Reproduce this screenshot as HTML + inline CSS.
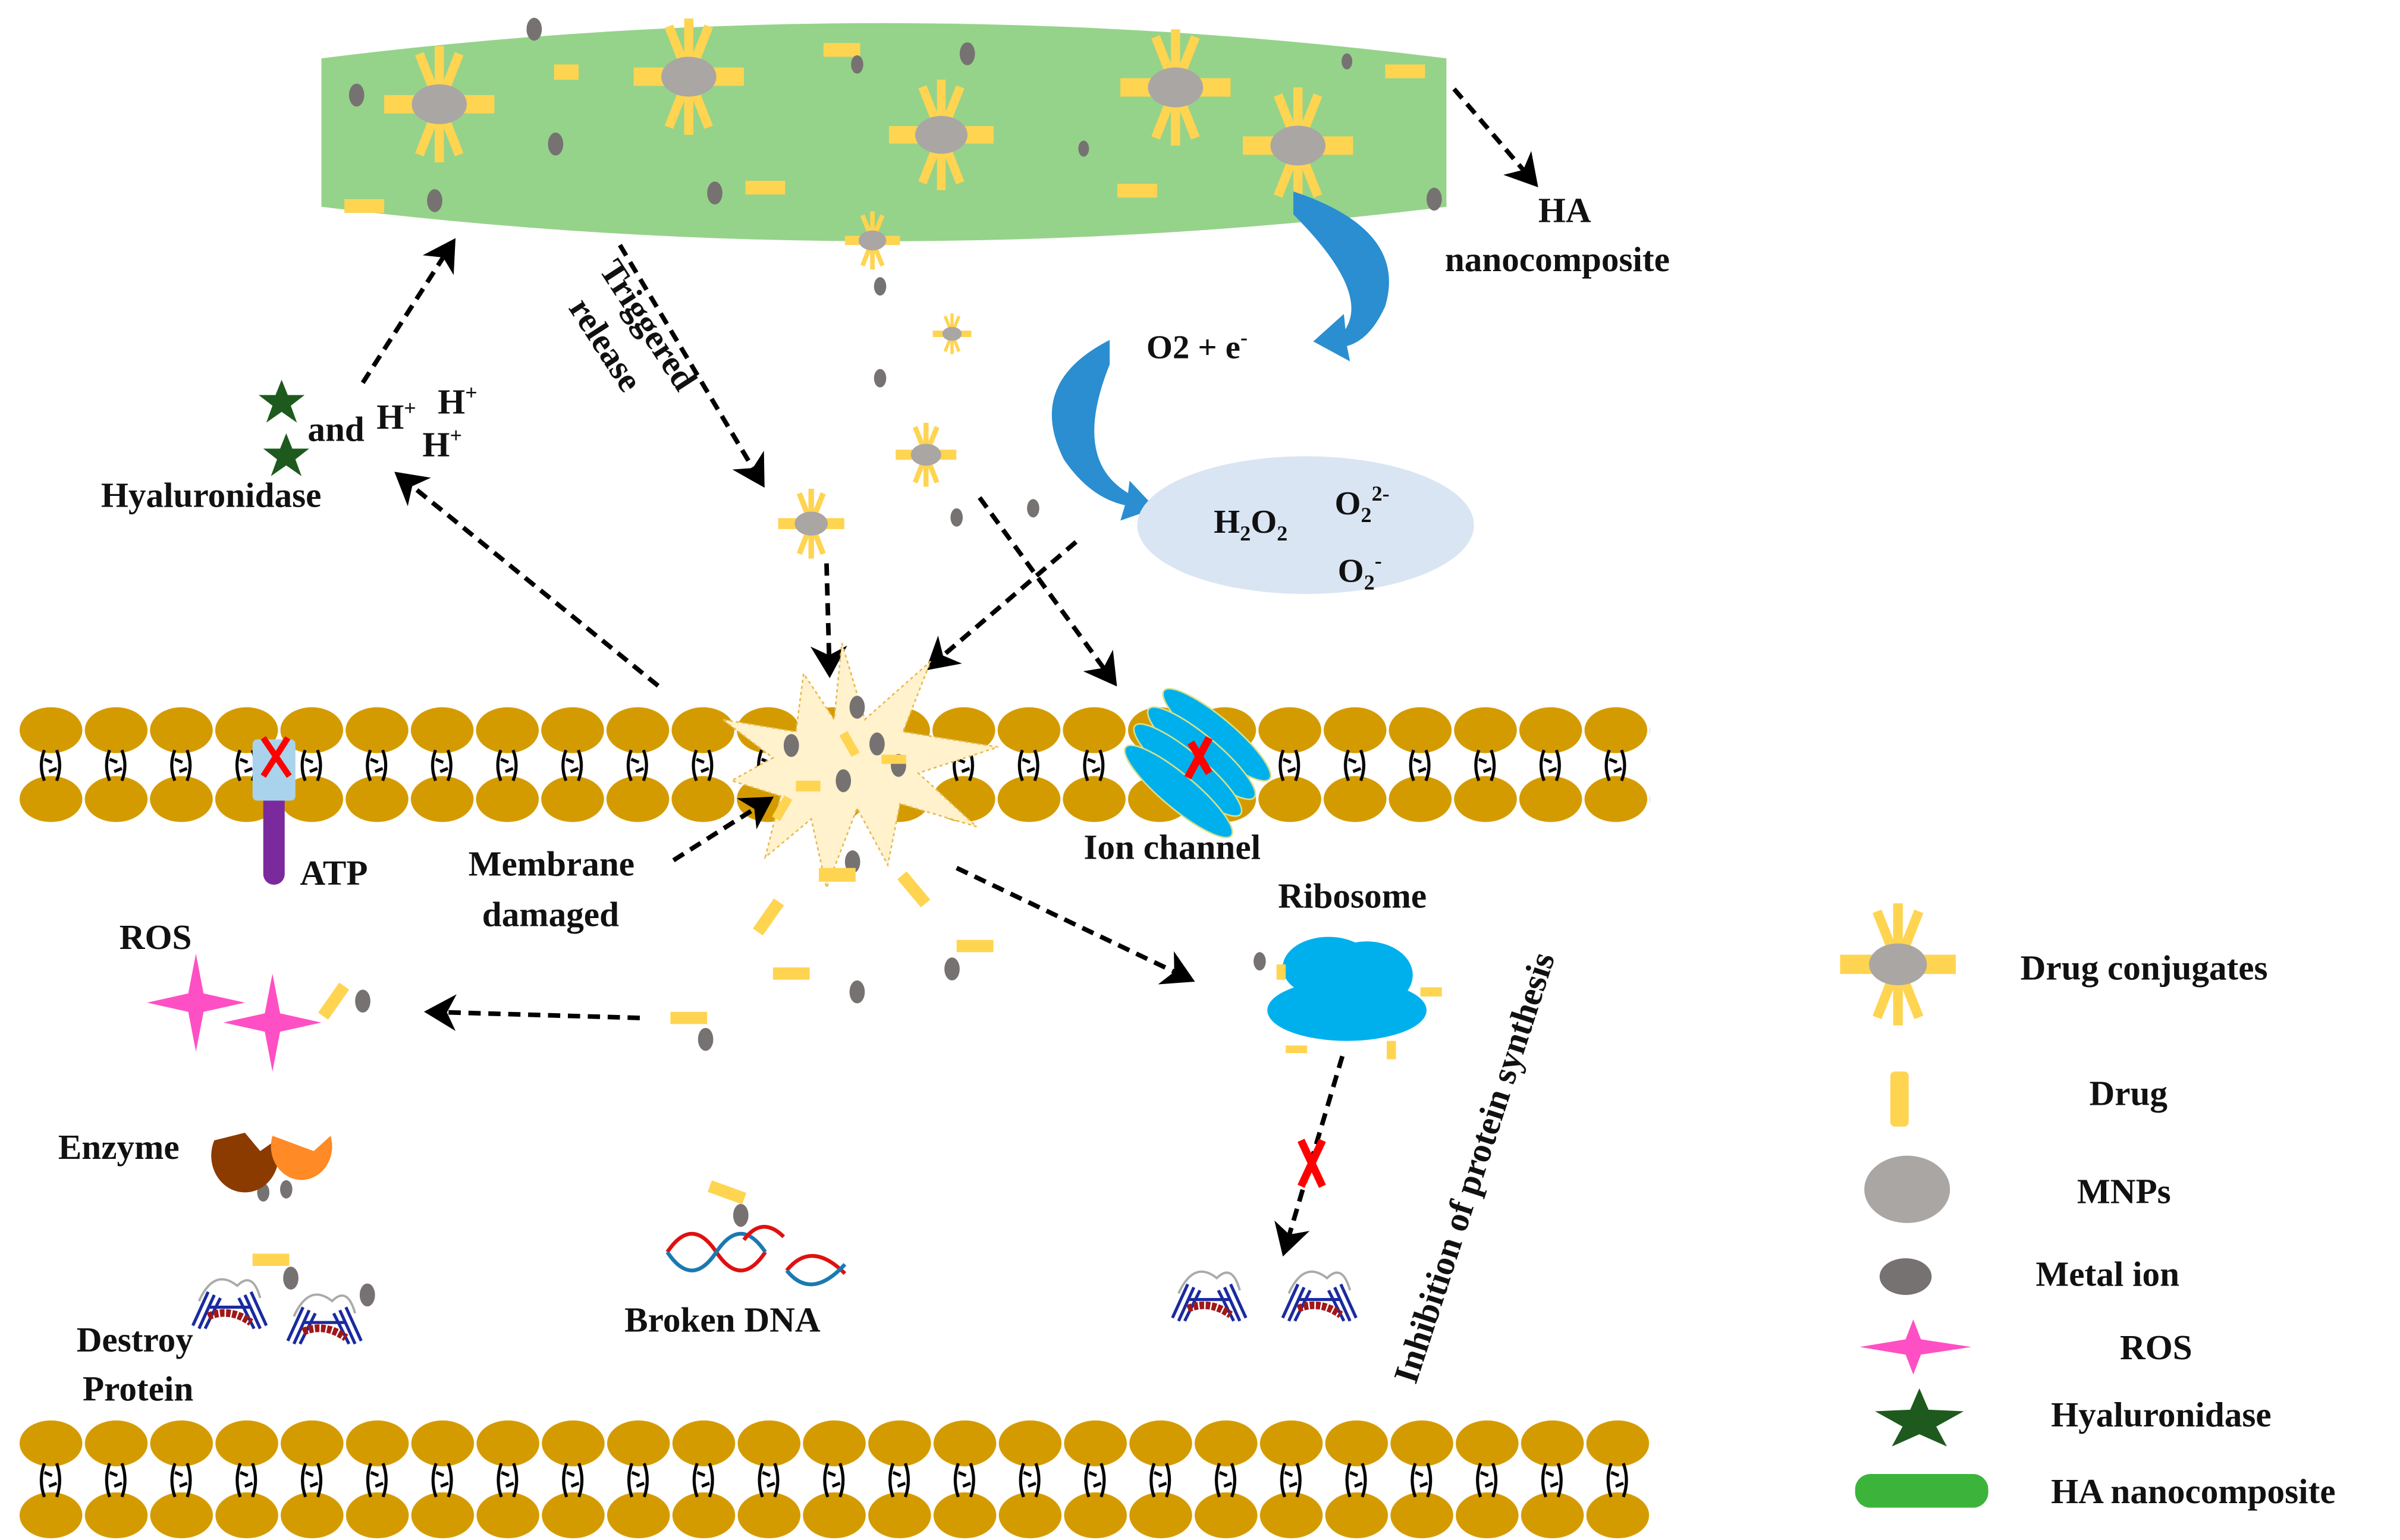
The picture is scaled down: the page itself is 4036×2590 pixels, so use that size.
<!DOCTYPE html>
<html><head><meta charset="utf-8"><style>
html,body{margin:0;padding:0;background:#fff}
svg{display:block}
text{font-family:"Liberation Serif","Times New Roman","DejaVu Serif",serif;font-weight:bold;fill:#111}
</style></head><body>
<svg width="4036" height="2590" viewBox="0 0 1568 1006" xmlns="http://www.w3.org/2000/svg" font-family="Liberation Serif, Times New Roman, DejaVu Serif, serif">
<defs>
<pattern id="lip" patternUnits="userSpaceOnUse" x="12" y="460" width="42.6" height="80">
 <ellipse cx="21.3" cy="17" rx="20.5" ry="15" fill="#d49b00"/>
 <ellipse cx="21.3" cy="62" rx="20.5" ry="15" fill="#d49b00"/>
 <path d="M17,30 Q13,40 17,50 M25,30 Q29,40 25,50 M17,36 L22,38 M20,44 L25,42" stroke="#000" stroke-width="2" fill="none"/>
</pattern>
<pattern id="lip2" patternUnits="userSpaceOnUse" x="12" y="926" width="42.65" height="80">
 <ellipse cx="21.3" cy="17" rx="20.5" ry="15" fill="#d49b00"/>
 <ellipse cx="21.3" cy="64" rx="20.5" ry="15" fill="#d49b00"/>
 <path d="M17,30 Q13,41 17,52 M25,30 Q29,41 25,52 M17,36 L22,38 M20,45 L25,43" stroke="#000" stroke-width="2" fill="none"/>
</pattern>
<g id="conj">
 <g stroke="#ffd451" stroke-width="6">
  <line x1="0" y1="-38" x2="0" y2="38"/>
  <line x1="-13" y1="-33" x2="13" y2="33"/>
  <line x1="13" y1="-33" x2="-13" y2="33"/>
 </g>
 <g stroke="#ffd451" stroke-width="12">
  <line x1="-36" y1="0" x2="36" y2="0"/>
 </g>
 <ellipse cx="0" cy="0" rx="18" ry="13" fill="#aaa6a4"/>
</g>
<g id="ion"><ellipse cx="0" cy="0" rx="5" ry="7.5" fill="#777272"/></g>
<marker id="ah" markerWidth="8" markerHeight="8" refX="6" refY="4" orient="auto" markerUnits="strokeWidth">
 <path d="M0,0 L7,4 L0,8 L2,4 Z" fill="#000"/>
</marker>
<g id="star4"><path d="M0,-32 L5,-6 L32,0 L5,6 L0,32 L-5,6 L-32,0 L-5,-6 Z" fill="#ff4fc4"/></g>
<g id="gstar"><path d="M0,-14 L4,-4 L15,-4 L6,3 L10,14 L0,7 L-10,14 L-6,3 L-15,-4 L-4,-4 Z" fill="#1e5a1e"/></g>
<g id="prot">
 <path d="M-20,0 Q-10,-22 5,-10 Q15,-20 20,-2" stroke="#aaa" stroke-width="1.5" fill="none"/>
 <g stroke="#1a2aa0" stroke-width="2">
  <line x1="-24" y1="16" x2="-14" y2="-6"/><line x1="-20" y1="18" x2="-10" y2="-4"/><line x1="-16" y1="18" x2="-6" y2="-2"/>
  <line x1="20" y1="18" x2="10" y2="-4"/><line x1="24" y1="16" x2="14" y2="-6"/><line x1="16" y1="18" x2="6" y2="-2"/>
  <line x1="-14" y1="4" x2="14" y2="4"/>
 </g>
 <path d="M-14,10 Q0,4 14,14" stroke="#a01818" stroke-width="5" fill="none" stroke-dasharray="3 1"/>
</g>
</defs>

<path d="M210,38 Q577,-8 945,38 L945,135 Q577,180 210,135 Z" fill="#95d38a"/>

<rect x="12" y="460" width="1066" height="80" fill="url(#lip)"/>
<rect x="12" y="926" width="1066" height="80" fill="url(#lip2)"/>

<use href="#conj" transform="translate(287,68)"/>
<use href="#conj" transform="translate(450,50)"/>
<use href="#conj" transform="translate(615,88) scale(0.95)"/>
<use href="#conj" transform="translate(768,57)"/>
<use href="#conj" transform="translate(848,95)"/>
<use href="#conj" transform="translate(570,157) scale(0.5)"/>
<use href="#conj" transform="translate(622,218) scale(0.35)"/>
<use href="#conj" transform="translate(605,297) scale(0.55)"/>
<use href="#conj" transform="translate(530,342) scale(0.6)"/>

<g fill="#ffd451">
<rect x="362" y="42" width="16" height="10"/><rect x="538" y="28" width="24" height="9"/>
<rect x="905" y="42" width="26" height="9"/><rect x="225" y="130" width="26" height="9"/>
<rect x="487" y="118" width="26" height="9"/><rect x="730" y="120" width="26" height="9"/>
</g>
<use href="#ion" transform="translate(349,19)"/>
<use href="#ion" transform="translate(560,42) scale(0.8)"/>
<use href="#ion" transform="translate(632,35)"/>
<use href="#ion" transform="translate(880,40) scale(0.7)"/>
<use href="#ion" transform="translate(233,62)"/>
<use href="#ion" transform="translate(363,94)"/>
<use href="#ion" transform="translate(284,131)"/>
<use href="#ion" transform="translate(467,126)"/>
<use href="#ion" transform="translate(708,97) scale(0.7)"/>
<use href="#ion" transform="translate(937,130)"/>
<use href="#ion" transform="translate(575,187) scale(0.8)"/>
<use href="#ion" transform="translate(575,247) scale(0.8)"/>
<use href="#ion" transform="translate(625,338) scale(0.8)"/>
<use href="#ion" transform="translate(675,332) scale(0.8)"/>

<path d="M845,125 Q920,150 905,200 Q895,222 880,226 L882,236 L858,223 L878,205 L879,215 Q895,190 845,140 Z" fill="#2a8ed0"/>
<path d="M725,222 Q670,250 695,300 Q712,325 735,330 L732,340 L755,332 L738,314 L737,322 Q700,300 725,238 Z" fill="#2a8ed0"/>

<ellipse cx="853" cy="343" rx="110" ry="45" fill="#dae5f3"/>
<text x="793" y="348" font-size="22">H<tspan font-size="14" dy="5">2</tspan><tspan dy="-5">O</tspan><tspan font-size="14" dy="5">2</tspan></text>
<text x="872" y="336" font-size="22">O<tspan font-size="14" dy="5">2</tspan><tspan font-size="14" dy="-14">2-</tspan></text>
<text x="874" y="380" font-size="22">O<tspan font-size="14" dy="5">2</tspan><tspan font-size="14" dy="-14">-</tspan></text>
<text x="749" y="234" font-size="22">O2 + e<tspan font-size="14" dy="-9">-</tspan></text>

<g stroke="#000" stroke-width="3" stroke-dasharray="8 5" fill="none" marker-end="url(#ah)">
<line x1="950" y1="58" x2="1003" y2="120"/>
<line x1="237" y1="250" x2="296" y2="158"/>
<line x1="405" y1="160" x2="498" y2="316"/>
<line x1="430" y1="448" x2="260" y2="310"/>
<line x1="540" y1="368" x2="542" y2="440"/>
<line x1="703" y1="354" x2="607" y2="436"/>
<line x1="640" y1="325" x2="728" y2="446"/>
<line x1="440" y1="562" x2="503" y2="522"/>
<line x1="625" y1="567" x2="778" y2="640"/>
<line x1="418" y1="665" x2="280" y2="661"/>
<line x1="877" y1="690" x2="839" y2="818"/>
</g>
<path d="M850,745 L864,775 M864,745 L850,775" stroke="#f00" stroke-width="5"/>

<path d="M550,420 L565,470 L608,432 L590,478 L652,488 L600,505 L638,540 L588,525 L580,565 L560,528 L540,580 L530,535 L500,560 L510,520 L478,510 L505,495 L472,470 L520,478 L525,440 L545,470 Z" fill="#fff2cc" stroke="#e8b850" stroke-width="1" stroke-dasharray="2 2"/>
<use href="#ion" transform="translate(517,487)"/>
<use href="#ion" transform="translate(560,462)"/>
<use href="#ion" transform="translate(573,486)"/>
<use href="#ion" transform="translate(551,510)"/>
<use href="#ion" transform="translate(587,500)"/>
<g fill="#ffd451">
<rect x="520" y="510" width="16" height="7"/><rect x="552" y="478" width="6" height="16" transform="rotate(-30 555 486)"/>
<rect x="576" y="493" width="16" height="6"/><rect x="508" y="520" width="6" height="16" transform="rotate(30 511 528)"/>
</g>
<use href="#ion" transform="translate(557,563)"/>
<use href="#ion" transform="translate(622,633)"/>
<use href="#ion" transform="translate(560,648)"/>
<use href="#ion" transform="translate(461,679)"/>
<use href="#ion" transform="translate(237,654)"/>
<use href="#ion" transform="translate(484,794)"/>
<use href="#ion" transform="translate(190,835)"/>
<use href="#ion" transform="translate(240,846)"/>
<use href="#ion" transform="translate(172,779) scale(0.8)"/>
<use href="#ion" transform="translate(187,777) scale(0.8)"/>
<use href="#ion" transform="translate(823,628) scale(0.8)"/>
<g fill="#ffd451">
<rect x="535" y="567" width="24" height="9"/>
<rect x="585" y="577" width="24" height="8" transform="rotate(50 597 581)"/>
<rect x="490" y="595" width="24" height="8" transform="rotate(-55 502 599)"/>
<rect x="625" y="614" width="24" height="8"/>
<rect x="505" y="632" width="24" height="8"/>
<rect x="438" y="661" width="24" height="8"/>
<rect x="206" y="650" width="24" height="8" transform="rotate(-55 218 654)"/>
<rect x="165" y="819" width="24" height="8"/>
<rect x="463" y="775" width="24" height="8" transform="rotate(20 475 779)"/>
</g>

<rect x="172" y="500" width="14" height="78" rx="7" fill="#7b2a9e"/>
<rect x="165" y="483" width="28" height="40" rx="3" fill="#a9d3ec"/>
<path d="M172,482 L189,507 M188,482 L172,507" stroke="#f00" stroke-width="4"/>
<text x="196" y="578" font-size="23">ATP</text>

<g fill="#00b0ec" stroke="#d8e08a" stroke-width="1">
<ellipse cx="795" cy="480" rx="45" ry="11" transform="rotate(40 795 480)"/>
<ellipse cx="785" cy="492" rx="45" ry="11" transform="rotate(40 785 492)"/>
<ellipse cx="776" cy="503" rx="45" ry="11" transform="rotate(40 776 503)"/>
<ellipse cx="770" cy="517" rx="45" ry="11" transform="rotate(40 770 517)"/>
</g>
<path d="M778,485 L790,505 M790,482 L776,508" stroke="#f00" stroke-width="5"/>
<text x="708" y="561" font-size="23">Ion channel</text>

<g fill="#00b0ec">
<ellipse cx="868" cy="632" rx="30" ry="20"/>
<ellipse cx="893" cy="637" rx="30" ry="22"/>
<ellipse cx="880" cy="660" rx="52" ry="20"/>
</g>
<g fill="#ffd451"><rect x="928" y="645" width="14" height="6"/><rect x="906" y="680" width="6" height="12"/><rect x="834" y="630" width="6" height="10"/><rect x="840" y="683" width="14" height="5"/></g>
<text x="835" y="593" font-size="23">Ribosome</text>
<use href="#prot" transform="translate(790,845)"/>
<use href="#prot" transform="translate(862,845)"/>

<use href="#gstar" transform="translate(184,262)"/>
<use href="#gstar" transform="translate(187,297)"/>
<text x="201" y="288" font-size="23">and</text>
<text x="246" y="280" font-size="23">H<tspan font-size="14" dy="-9">+</tspan></text>
<text x="286" y="270" font-size="23">H<tspan font-size="14" dy="-9">+</tspan></text>
<text x="276" y="298" font-size="23">H<tspan font-size="14" dy="-9">+</tspan></text>
<text x="66" y="331" font-size="23">Hyaluronidase</text>
<text transform="translate(391,176) rotate(57)" font-size="23">Triggered</text>
<text transform="translate(371,201) rotate(57)" font-size="23">release</text>
<text x="1005" y="145" font-size="23">HA</text>
<text x="944" y="177" font-size="23">nanocomposite</text>
<text x="306" y="572" font-size="23">Membrane</text>
<text x="315" y="605" font-size="23">damaged</text>
<text x="78" y="620" font-size="23">ROS</text>
<use href="#star4" transform="translate(128,655)"/>
<use href="#star4" transform="translate(178,668)"/>
<text x="38" y="757" font-size="23">Enzyme</text>
<path d="M140,745 A22,24 0 1 0 180,745 L170,752 L160,740 Z" fill="#8b3b00"/>
<path d="M178,742 A20,22 0 1 0 216,742 L205,752 Z" fill="#ff8a26"/>
<use href="#prot" transform="translate(150,850)"/>
<use href="#prot" transform="translate(212,860)"/>
<text x="50" y="883" font-size="23">Destroy</text>
<text x="54" y="915" font-size="23">Protein</text>
<g fill="none" stroke-width="2.5">
<path d="M436,818 Q452,794 468,818 Q484,842 500,818" stroke="#e01010"/>
<path d="M436,818 Q452,842 468,818 Q484,794 500,818" stroke="#1a7ab0"/>
<path d="M486,810 Q498,794 512,808" stroke="#e01010"/>
<path d="M514,830 Q530,810 552,832" stroke="#e01010"/>
<path d="M514,830 Q530,850 552,826" stroke="#1a7ab0"/>
</g>
<text x="408" y="870" font-size="23">Broken DNA</text>
<text transform="translate(925,905) rotate(-72)" font-size="23">Inhibition of protein synthesis</text>

<use href="#conj" transform="translate(1240,630) scale(1.05)"/>
<text x="1320" y="640" font-size="23">Drug conjugates</text>
<rect x="1235" y="700" width="12" height="36" rx="3" fill="#ffd451"/>
<text x="1365" y="722" font-size="23">Drug</text>
<ellipse cx="1246" cy="777" rx="28" ry="22" fill="#aaa6a4"/>
<text x="1357" y="786" font-size="23">MNPs</text>
<ellipse cx="1245" cy="834" rx="17" ry="12" fill="#777272"/>
<text x="1330" y="840" font-size="23">Metal ion</text>
<path d="M1250,862 L1255,875 L1288,880 L1255,885 L1250,898 L1245,885 L1215,880 L1245,875 Z" fill="#ff4fc4"/>
<text x="1385" y="888" font-size="23">ROS</text>
<path d="M1254,907 L1260,921 L1283,922 L1265,932 L1272,945 L1254,937 L1236,945 L1243,932 L1225,922 L1248,921 Z" fill="#1e5a1e"/>
<text x="1340" y="932" font-size="23">Hyaluronidase</text>
<rect x="1212" y="963" width="87" height="22" rx="10" fill="#3cb43c"/>
<text x="1340" y="982" font-size="23">HA nanocomposite</text>
</svg>
</body></html>
